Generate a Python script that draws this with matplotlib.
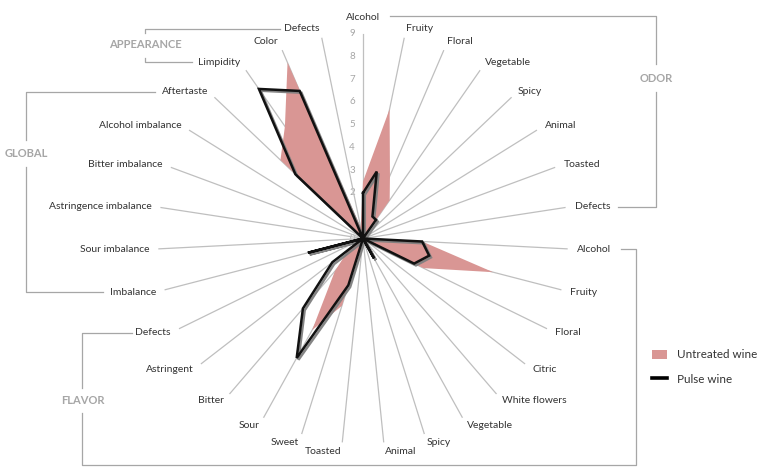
import numpy as np
import matplotlib
matplotlib.use("Agg")
import matplotlib.pyplot as plt
from matplotlib.lines import Line2D
from matplotlib.patches import Patch
import matplotlib.patheffects as pe

plt.rcParams['font.family'] = ['Lato', 'DejaVu Sans']

categories = ['Alcohol', 'Fruity', 'Floral', 'Vegetable', 'Spicy', 'Animal', 'Toasted', 'Defects',
              'Alcohol', 'Fruity', 'Floral', 'Citric', 'White flowers', 'Vegetable', 'Spicy', 'Animal',
              'Toasted', 'Sweet', 'Sour', 'Bitter', 'Astringent', 'Defects',
              'Imbalance', 'Sour imbalance', 'Astringence imbalance', 'Bitter imbalance',
              'Alcohol imbalance', 'Aftertaste',
              'Limpidity', 'Color', 'Defects']

untreated = [2.5, 5.8, 3.0, 2.05, 0, 0, 0, 0,
             2.6, 5.9, 2.95, 0, 0, 0, 0, 0, 0, 3.1, 4.6, 1.9, 0.8, 0,
             0, 0, 0, 0, 0, 5.0,
             6.0, 8.4, 0.5]

pulse = [2.0, 3.0, 1.05, 1.0, 0, 0, 0, 0,
         2.6, 3.0, 2.5, 0, 0, 1.0, 0, 0, 0, 2.15, 6.0, 4.05, 1.7, 0,
         2.5, 0, 0, 0, 0, 4.1,
         8.0, 7.05, 0]

r_ticks = list(range(0, 10))
series_names = ['Untreated wine', 'Pulse wine']

W, H = 762, 470
fig = plt.figure(figsize=(W / 100, H / 100), dpi=100)
cx, cy, R = 363, 238.5, 205
ax = fig.add_axes([(cx - R) / W, (H - cy - R) / H, 2 * R / W, 2 * R / H], projection='polar')
ax.set_theta_zero_location('N')
ax.set_theta_direction(-1)
ax.set_ylim(0, 9)

n = len(categories)
theta = np.arange(n) * 2 * np.pi / n
tc = np.append(theta, theta[0])
u = np.append(untreated, untreated[0])
p = np.append(pulse, pulse[0])

ax.fill(tc, u, color='#d99694', lw=0, zorder=2)
ax.plot(tc, p, color='#111111', lw=1.8, zorder=3, solid_joinstyle='miter',
        path_effects=[pe.SimpleLineShadow(offset=(1.3, -1.3), shadow_color='#7f7f7f', alpha=0.95, rho=1),
                      pe.Normal()])

ax.set_xticks(theta)
ax.set_xticklabels([])
ax.xaxis.grid(True, color='#bfbfbf', lw=0.9)
ax.yaxis.grid(False)
ax.set_yticks(r_ticks)
ax.set_yticklabels([])
ax.spines['polar'].set_visible(False)
ax.set_facecolor('none')
ax.tick_params(length=0)

for rv in r_ticks:
    ax.annotate(str(rv), xy=(0, rv), xytext=(-11, 0), textcoords='offset pixels',
                ha='center', va='center', fontsize=7, color='#a6a6a6', zorder=1)

for th, lab in zip(theta, categories):
    s, c = np.sin(th), np.cos(th)
    if abs(s) < 1e-6:
        ha, off = 'center', (0, 16)
    else:
        ha = 'left' if s > 0 else 'right'
        off = (9 * s, 9 * c)
    ax.annotate(lab, xy=(th, 9), xytext=off, textcoords='offset pixels',
                ha=ha, va='center', fontsize=7.5, color='#333333', annotation_clip=False)

# group brackets (figure pixel coordinates)
def poly(pts):
    xs = [x / W for x, y in pts]
    ys = [1 - y / H for x, y in pts]
    fig.add_artist(Line2D(xs, ys, color='#a6a6a6', lw=0.9, transform=fig.transFigure))

def glabel(x, y, t):
    fig.text(x / W, 1 - y / H, t, ha='center', va='center', fontsize=8,
             color='#a6a6a6', fontweight='bold')

poly([(390, 15.7), (656, 15.7), (656, 64)])
poly([(656, 92), (656, 207), (618, 207)])
glabel(656, 78, 'ODOR')

poly([(621, 249), (636, 249), (636, 465), (82, 465), (82, 413)])
poly([(82, 388), (82, 333), (132, 333)])
glabel(83, 400, 'FLAVOR')

poly([(155, 92), (26, 92), (26, 140)])
poly([(26, 167), (26, 292), (103, 292)])
glabel(26, 153, 'GLOBAL')

poly([(280, 29.3), (145, 29.3), (145, 33)])
poly([(145, 58), (145, 61.5), (192, 61.5)])
glabel(145, 45, 'APPEARANCE')

handles = [Patch(facecolor='#d99694', edgecolor='none'),
           Line2D([0], [0], color='black', lw=2.6)]
fig.legend(handles, series_names, loc='center left', bbox_to_anchor=(652 / W, 1 - 367 / H),
           frameon=False, fontsize=8.4, handlelength=1.3, handleheight=0.85, handletextpad=0.85,
           labelspacing=1.15, borderpad=0, borderaxespad=0, labelcolor='#333333')

fig.savefig('out.png', dpi=100)
